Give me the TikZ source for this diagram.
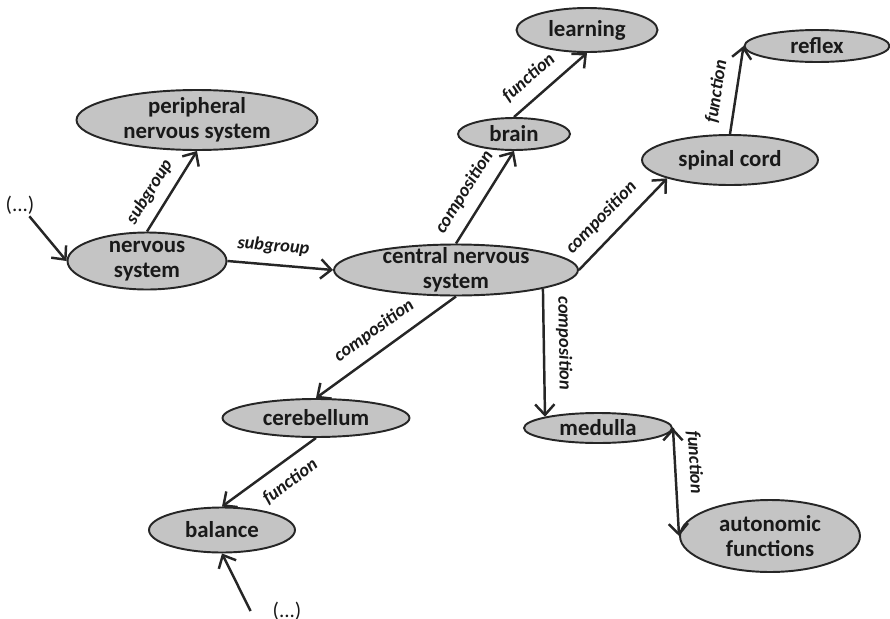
\documentclass[tikz,border=0pt]{standalone}
\usepackage{fontspec}
\setmainfont{Carlito}
\usetikzlibrary{arrows.meta, shapes.geometric}

\begin{document}
\begin{tikzpicture}[x=0.02cm, y=-0.02cm, >={Straight Barb[length=6pt, width=11pt]},
	concept/.style={ellipse, draw=black!85, fill=black!23, line width=1.1pt, inner xsep=0pt, inner ysep=-5pt, align=center, text=black!90, font=\bfseries\fontsize{13}{14.5}\selectfont},
	rel/.style={sloped, text=black!90, font=\bfseries\itshape\fontsize{10.5}{12}\selectfont},
	dots/.style={inner sep=1pt, text=black!90, font=\fontsize{12}{14}\selectfont}]
	\useasboundingbox (0,0) rectangle (890,619);
	
	\node[concept, minimum width=4.82cm, minimum height=1.2cm] (pns) at (197,120) {peripheral\\nervous system};
	\node[concept, minimum width=3.18cm, minimum height=1.14cm] (ns) at (147,261) {nervous\\system};
	\node[concept, minimum width=4.88cm, minimum height=1.02cm] (cns) at (456,270) {central nervous\\system};
	\node[concept, minimum width=2.24cm, minimum height=0.64cm] (brain) at (514,134) {brain};
	\node[concept, minimum width=2.82cm, minimum height=0.88cm] (learn) at (587,30) {learning};
	\node[concept, minimum width=3.52cm, minimum height=1.0cm] (spine) at (730,160) {spinal cord};
	\node[concept, minimum width=2.9cm, minimum height=0.64cm] (reflex) at (817,46) {reflex};
	\node[concept, minimum width=3.74cm, minimum height=0.76cm] (cereb) at (316,418) {cerebellum};
	\node[concept, minimum width=2.92cm, minimum height=0.9cm] (bal) at (222,530) {balance};
	\node[concept, minimum width=2.96cm, minimum height=0.6cm] (med) at (598,428) {medulla};
	\node[concept, minimum width=3.6cm, minimum height=1.44cm] (auto) at (770,536) {autonomic\\functions};
	
	\node[dots] (moreA) at (20,205) {(...)};
	\node[dots] (moreB) at (287,611) {(...)};
	
	\path[->, line width=1.4pt, draw=black!85]
	(moreA) edge (ns.west)
	(ns.north) edge node[rel, above=2pt, pos=.37] {subgroup} (pns.south)
	(ns.east) edge node[rel, above=2pt, pos=.42] {subgroup} (cns.west)
	
	(cns.north) edge node[rel, above=3pt, pos=.44] {composition} (brain.south)
	(brain.north) edge node[rel, above=3pt, pos=.38] {function} (learn.south)
	(cns.east) edge node[rel, above=3pt, pos=.42] {composition} (spine.south west)
	(spine.north) edge node[rel, above=3pt, pos=.45] {function} (reflex.west)
	
	(cns.south) edge node[rel, above=3pt, pos=.5] {composition} (cereb.north)
	(cereb.south) edge node[rel, below=3pt, pos=.4] {function} (bal.north)
	([xshift=-0.4cm]moreB.west) edge (bal.south)
	
	(cns.south east) edge node[rel, above=3pt, pos=.43] {composition} (med.north west)
	(med.east) edge node[rel, above=3pt, pos=.33] {function} (auto.west)
	;
\end{tikzpicture}
\end{document}
